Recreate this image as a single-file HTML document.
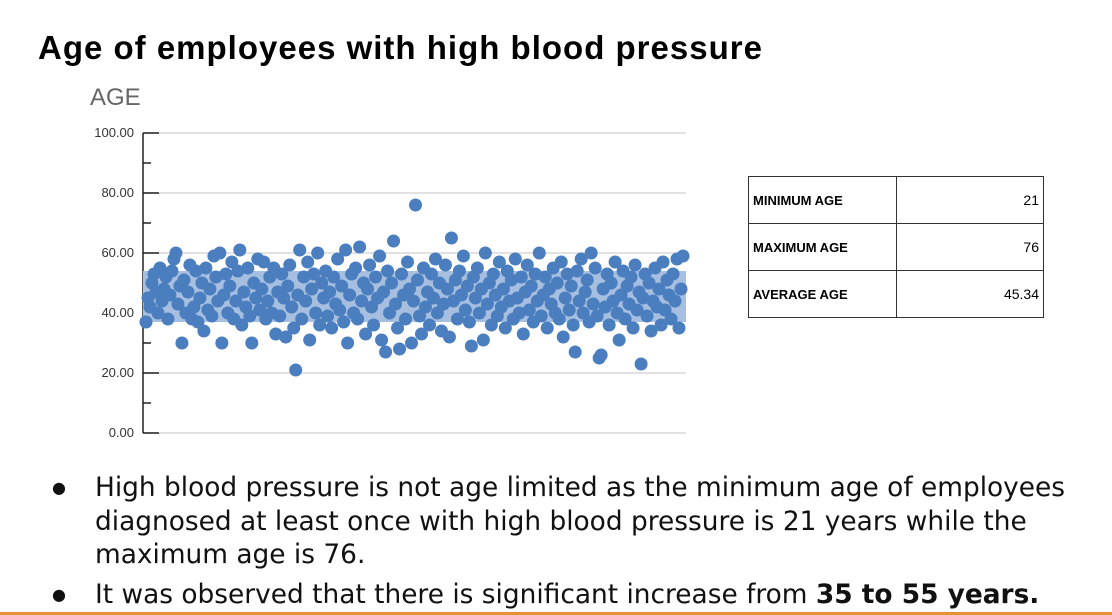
<!DOCTYPE html>
<html><head><meta charset="utf-8"><style>
body{margin:0;width:1112px;height:615px;background:#fff;position:relative;overflow:hidden;font-family:"Liberation Sans",Arial,sans-serif}
.t{position:absolute}
table{border-collapse:collapse;position:absolute;left:748px;top:176px;font-size:14px}
td{border:1px solid #333;height:47px;padding:0 4px;box-sizing:border-box}
ul{position:absolute;left:55px;top:471px;margin:0;padding:0;list-style:none;font-family:"DejaVu Sans",sans-serif;font-size:26.4px;line-height:33.5px;color:#111;width:1050px}
li{position:relative;padding-left:40px}
li:before{content:"●";position:absolute;left:-3px;font-size:16px}
</style></head><body>
<div class="t" style="left:38px;top:29px;font-size:33px;font-weight:bold;letter-spacing:1px">Age of employees with high blood pressure</div>
<div class="t" style="left:90px;top:84px;font-size:24px;color:#666">AGE</div>
<svg id="chart" width="720" height="460" style="position:absolute;left:0;top:0"></svg>
<table>
<tr><td style="width:148px;font-weight:bold;font-size:13px">MINIMUM AGE</td><td style="width:147px;text-align:right">21</td></tr>
<tr><td style="font-weight:bold;font-size:13px">MAXIMUM AGE</td><td style="text-align:right">76</td></tr>
<tr><td style="font-weight:bold;font-size:13px">AVERAGE AGE</td><td style="text-align:right">45.34</td></tr>
</table>
<ul>
<li>High blood pressure is not age limited as the minimum age of employees diagnosed at least once with high blood pressure is 21 years while the maximum age is 76.</li>
<li style="margin-top:6px">It was observed that there is significant increase from <b>35 to 55 years.</b></li>
</ul>
<div class="t" style="left:0;top:612px;width:1112px;height:3px;background:#e69138"></div>
<script>
const yTicks=[0,20,40,60,80,100];
const bandRange=[37,54];
const ages=[37,45,42,50,53,47,40,55,44,48,52,38,46,54,58,60,43,49,30,51,40,47,56,38,42,54,37,45,50,34,55,41,48,39,59,52,44,60,30,46,53,40,49,57,38,44,54,61,36,47,42,55,39,30,50,45,58,41,48,57,38,44,52,40,55,33,47,39,53,45,32,49,56,42,35,21,46,61,38,52,44,57,31,48,53,40,60,36,50,45,54,39,47,35,52,43,58,41,49,37,61,30,46,53,40,55,38,62,44,50,33,48,56,42,36,52,45,59,31,47,27,54,40,50,64,43,35,28,53,46,38,57,48,30,44,76,51,39,33,55,42,47,36,53,45,58,40,50,34,43,56,48,32,65,44,51,38,54,46,59,41,49,37,29,52,45,55,40,48,31,60,43,50,36,53,46,39,57,42,48,35,54,44,51,38,58,45,40,52,33,47,56,41,49,37,53,44,60,39,46,52,35,48,43,55,40,50,38,57,32,45,53,41,49,36,27,54,44,58,40,47,51,37,60,43,55,39,25,26,48,42,53,36,50,44,57,40,31,46,54,38,49,43,52,35,56,41,47,23,45,53,39,50,34,44,55,42,48,36,57,41,51,46,38,53,44,58,35,48,59];
const svg=document.getElementById('chart');const NS='http://www.w3.org/2000/svg';
const x0=143,x1=686,yTop=133,yBot=433;
const Y=v=>yBot-(v/100)*(yBot-yTop);
const X=i=>x0+3+i*(x1-x0-6)/(ages.length-1);
function mk(t,a){const e=document.createElementNS(NS,t);for(const k in a)e.setAttribute(k,a[k]);svg.appendChild(e);return e;}
yTicks.forEach(v=>{
 const g=mk('line',{x1:x0,x2:x1,y1:Y(v),y2:Y(v),stroke:'#d9d9d9','stroke-width':1.5});
 
 const tk=mk('line',{x1:x0,x2:x0+16,y1:Y(v),y2:Y(v),stroke:'#222','stroke-width':1.5});
 
 const l=mk('text',{x:x0-9,y:Y(v)+4,'text-anchor':'end','font-size':13,fill:'#333','font-family':'Liberation Sans, sans-serif'});
 l.textContent=v.toFixed(2);
 
 if(v<100){const m=mk('line',{x1:x0,x2:x0+8,y1:Y(v+10),y2:Y(v+10),stroke:'#222','stroke-width':1.5});
 }
});
const ax=mk('line',{x1:x0,x2:x0,y1:yTop,y2:yBot,stroke:'#222','stroke-width':1.5});

const band=mk('rect',{x:x0,y:Y(bandRange[1]),width:x1-x0,height:Y(bandRange[0])-Y(bandRange[1]),fill:'#a6bfe0'});

ages.forEach((v,i)=>{
 const c=mk('circle',{cx:X(i),cy:Y(v),r:6.5,fill:'#4a7ebf'});
 
});
</script>
</body></html>
